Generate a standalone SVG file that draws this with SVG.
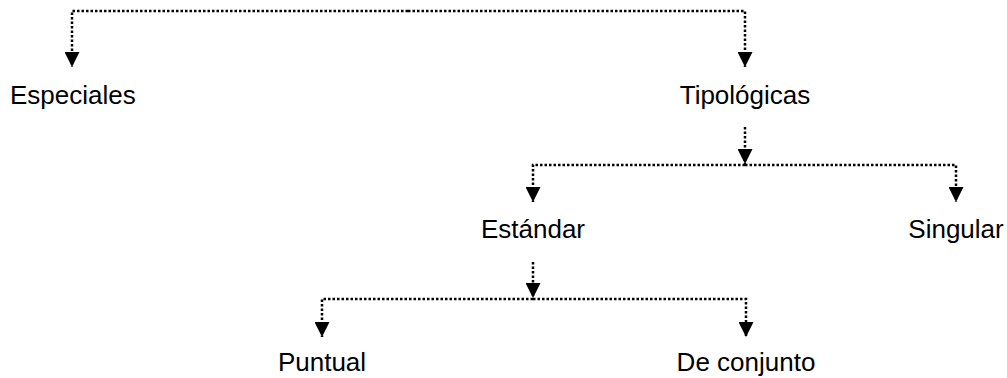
<svg xmlns="http://www.w3.org/2000/svg" width="1007" height="378" viewBox="0 0 1007 378">
<style>
.c{fill:none;stroke:#000;stroke-width:2.5;stroke-dasharray:2.5 2;marker-end:url(#ah)}
text{font-family:"Liberation Sans",Arial,sans-serif;font-size:26px;fill:#000}
</style>
<defs>
<marker id="ah" viewBox="0 0 15 15" refX="15" refY="7.5" markerWidth="15" markerHeight="15" markerUnits="userSpaceOnUse" orient="auto">
<path d="M0,0 L15,7.5 L0,15 z" fill="#000"/>
</marker>
</defs>
<rect width="1007" height="378" fill="#fff"/>
<g id="connectors">
<path class="c" d="M408,11 H72 V67"/>
<path class="c" d="M408,11 H745 V67"/>
<path class="c" d="M745,127 V164"/>
<path class="c" d="M745,165 H533 V202"/>
<path class="c" d="M745,165 H956 V202"/>
<path class="c" d="M533,262 V298"/>
<path class="c" d="M533,299 H322 V337"/>
<path class="c" d="M533,299 H746 V337"/>
</g>
<g id="especiales"><text x="10" y="104">Especiales</text></g>
<g id="tipologicas"><text x="745" y="104" text-anchor="middle">Tipológicas</text></g>
<g id="estandar"><text x="533" y="238" text-anchor="middle">Estándar</text></g>
<g id="singular"><text x="956" y="238" text-anchor="middle">Singular</text></g>
<g id="puntual"><text x="322" y="371" text-anchor="middle">Puntual</text></g>
<g id="deconjunto"><text x="746" y="371" text-anchor="middle">De conjunto</text></g>
</svg>
